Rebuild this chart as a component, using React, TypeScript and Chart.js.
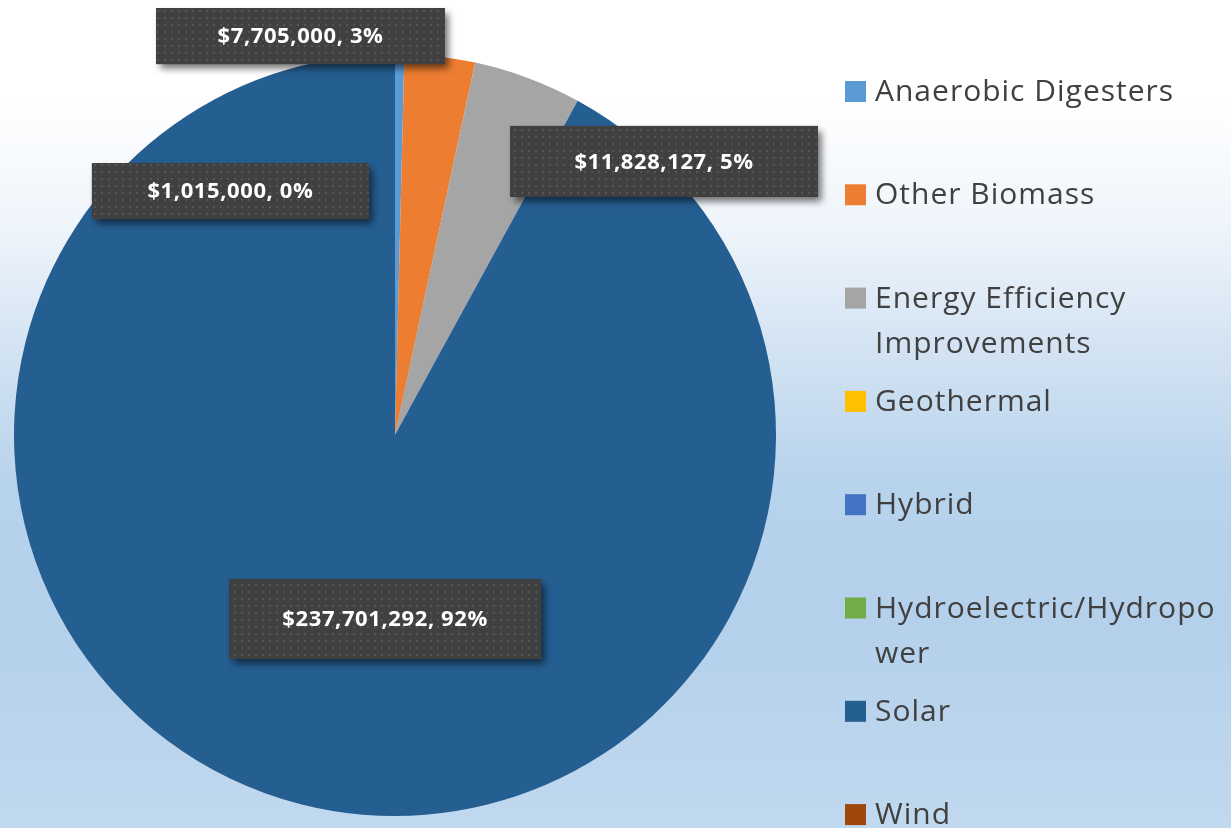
import React, { useEffect, useRef } from "react";
import { Chart, registerables } from "chart.js";

Chart.register(...registerables);

// ---- data ----
const categories = [
  "Anaerobic Digesters",
  "Other Biomass",
  "Energy Efficiency Improvements",
  "Geothermal",
  "Hybrid",
  "Hydroelectric/Hydropower",
  "Solar",
  "Wind",
];
const amounts = [1015000, 7705000, 11828127, 0, 0, 0, 237701292, 0];
const sliceColors = [
  "#5b9bd5",
  "#ed7d31",
  "#a5a5a5",
  "#ffc000",
  "#4472c4",
  "#70ad47",
  "#255e91",
  "#9e480e",
];

// ---- data-label box layout (offset from pie centre in radius units, size in px) ----
const labelLayout: ({ dx: number; dy: number; w: number; h: number } | null)[] = [
  { dx: -0.432, dy: -0.64, w: 277, h: 56 },
  { dx: -0.248, dy: -1.047, w: 289, h: 56 },
  { dx: 0.706, dy: -0.718, w: 308, h: 71 },
  null,
  null,
  null,
  { dx: -0.026, dy: 0.483, w: 312, h: 80 },
  null,
];

const LABEL_FONT = "bold 22px 'Open Sans'";
const LABEL_SPACING = "0.6px";
const LEGEND_FONT = "30px 'Open Sans'";
const LEGEND_SPACING = "1px";

function makePattern(ctx: CanvasRenderingContext2D) {
  const c = document.createElement("canvas");
  c.width = 7;
  c.height = 7;
  const p = c.getContext("2d")!;
  p.fillStyle = "#404040";
  p.fillRect(0, 0, 7, 7);
  p.fillStyle = "#555555";
  p.fillRect(3, 3, 2, 2);
  return ctx.createPattern(c, "repeat")!;
}

const dataLabelPlugin = {
  id: "boxLabels",
  afterDatasetsDraw(chart: any) {
    const ctx: CanvasRenderingContext2D = chart.ctx;
    const meta = chart.getDatasetMeta(0);
    const arc = meta.data[0] as any;
    if (!arc) return;
    const cx = arc.x;
    const cy = arc.y;
    const r = arc.outerRadius;
    const vals: number[] = chart.data.datasets[0].data;
    const total = vals.reduce((a, b) => a + b, 0);
    const pattern = makePattern(ctx);
    vals.forEach((v, i) => {
      const lay = labelLayout[i];
      if (!v || !lay) return;
      const bx = cx + lay.dx * r - lay.w / 2;
      const by = cy + lay.dy * r - lay.h / 2;
      ctx.save();
      ctx.shadowColor = "rgba(0,0,0,0.55)";
      ctx.shadowBlur = 7;
      ctx.shadowOffsetX = 4;
      ctx.shadowOffsetY = 5;
      ctx.fillStyle = "#404040";
      ctx.fillRect(bx, by, lay.w, lay.h);
      ctx.restore();
      ctx.save();
      ctx.fillStyle = pattern;
      ctx.fillRect(bx, by, lay.w, lay.h);
      const text =
        "$" + v.toLocaleString("en-US") + ", " + Math.round((v / total) * 100) + "%";
      ctx.font = LABEL_FONT;
      (ctx as any).letterSpacing = LABEL_SPACING;
      ctx.fillStyle = "#ffffff";
      ctx.textAlign = "center";
      ctx.textBaseline = "middle";
      ctx.fillText(text, bx + lay.w / 2, by + lay.h / 2 + 1);
      ctx.restore();
    });
  },
};

function wrapText(ctx: CanvasRenderingContext2D, text: string, maxW: number) {
  const words = text.split(" ");
  const lines: string[] = [];
  let cur = "";
  const pushWord = (w: string) => {
    let rest = w;
    while (ctx.measureText(rest).width > maxW) {
      let k = rest.length;
      while (k > 1 && ctx.measureText(rest.slice(0, k)).width > maxW) k--;
      lines.push(rest.slice(0, k));
      rest = rest.slice(k);
    }
    return rest;
  };
  for (const w of words) {
    const trial = cur ? cur + " " + w : w;
    if (ctx.measureText(trial).width <= maxW) {
      cur = trial;
    } else {
      if (cur) lines.push(cur);
      cur = pushWord(w);
    }
  }
  if (cur) lines.push(cur);
  return lines;
}

const legendPlugin = {
  id: "sideLegend",
  afterDraw(chart: any) {
    const ctx: CanvasRenderingContext2D = chart.ctx;
    const labels: string[] = chart.data.labels;
    const colors: string[] = chart.data.datasets[0].backgroundColor;
    const x0 = chart.chartArea.right + 69;
    const textX = x0 + 30;
    const maxW = chart.width - textX - 2;
    ctx.save();
    ctx.font = LEGEND_FONT;
    (ctx as any).letterSpacing = LEGEND_SPACING;
    ctx.textBaseline = "alphabetic";
    ctx.textAlign = "left";
    labels.forEach((lab, i) => {
      const base = 101 + i * 103.3;
      ctx.fillStyle = colors[i];
      ctx.fillRect(x0, base - 20, 21, 21);
      ctx.fillStyle = "#404040";
      const lines = wrapText(ctx, lab, maxW);
      lines.forEach((ln, j) => ctx.fillText(ln, textX, base + j * 45));
    });
    ctx.restore();
  },
};

export default function App() {
  const ref = useRef<HTMLCanvasElement>(null);
  useEffect(() => {
    if (!ref.current) return;
    const chart = new Chart(ref.current, {
      type: "pie",
      data: {
        labels: categories,
        datasets: [
          {
            data: amounts,
            backgroundColor: sliceColors,
            borderWidth: 0,
          },
        ],
      },
      options: {
        responsive: false,
        animation: false,
        devicePixelRatio: 1,
        layout: { padding: { left: 14, right: 455, top: 54, bottom: 12 } },
        plugins: {
          legend: { display: false },
          tooltip: { enabled: false },
        },
      },
      plugins: [dataLabelPlugin, legendPlugin],
    });
    return () => chart.destroy();
  }, []);
  return (
    <div
      style={{
        position: "absolute",
        left: 0,
        top: 0,
        width: 1231,
        height: 828,
        background:
          "linear-gradient(180deg, #ffffff 0%, #ffffff 12%, #eef4fb 28%, #d3e3f3 42%, #b8d3ec 58%, #b4d0eb 75%, #c1d9ef 100%)",
      }}
    >
      <canvas ref={ref} width={1231} height={828} />
    </div>
  );
}
